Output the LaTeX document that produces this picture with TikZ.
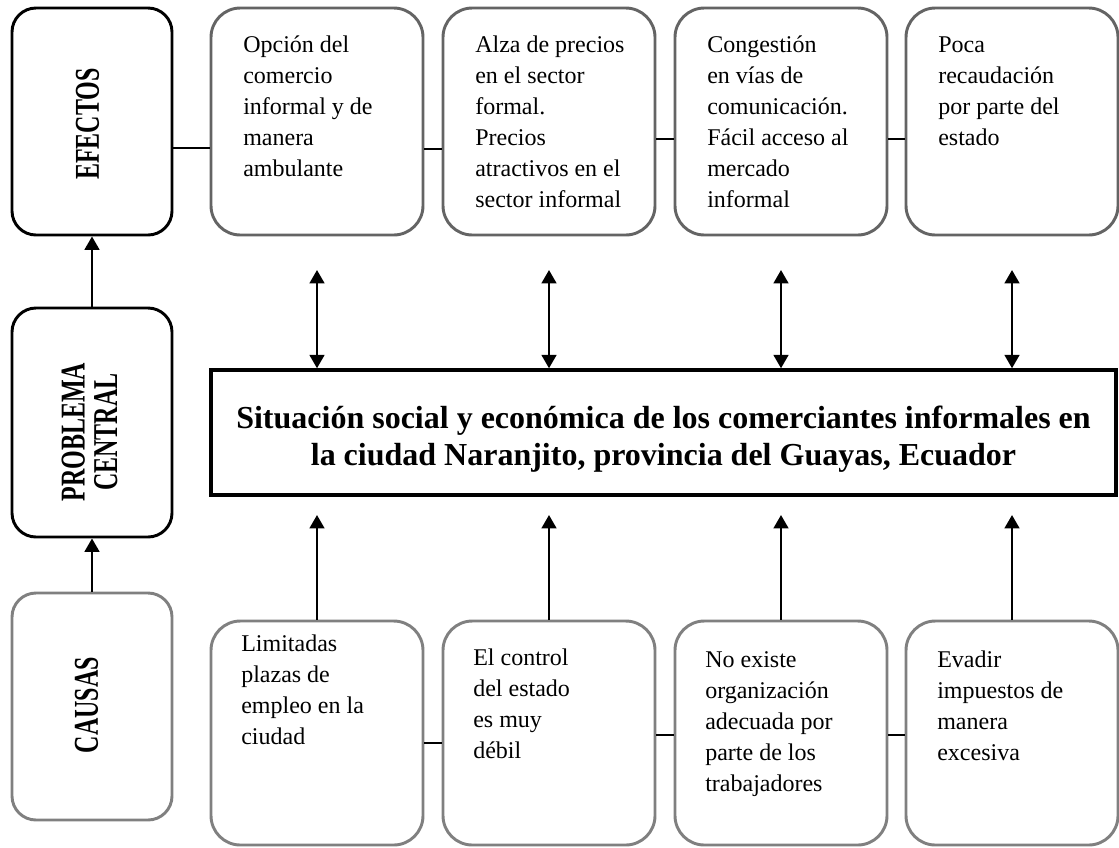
\documentclass[tikz,border=0pt]{standalone}
\usepackage{fontspec}
\setmainfont{Liberation Serif}
\usetikzlibrary{arrows.meta}
\definecolor{effgray}{RGB}{100,100,100}
\definecolor{causegray}{RGB}{128,128,128}
\newcommand{\vlab}[1]{\scalebox{1}[1.45]{\begin{tabular}{@{}c@{}}#1\end{tabular}}}
\begin{document}
\begin{tikzpicture}[x=0.75pt,y=-0.75pt,
  lbox/.style={draw=black, line width=2.2pt, rounded corners=18pt, minimum width=120pt, minimum height=170.25pt, inner sep=0pt},
  ebox/.style={draw=effgray, line width=2.2pt, rounded corners=22pt, minimum width=159pt, minimum height=170.25pt, inner sep=0pt},
  cbox/.style={draw=causegray, line width=2.2pt, rounded corners=22pt, minimum width=159pt, minimum height=168pt, inner sep=0pt},
  central/.style={draw=black, line width=2.6pt, minimum width=678.75pt, minimum height=93.75pt, inner sep=0pt},
  btext/.style={anchor=north west, inner sep=0pt, align=left, font=\fontsize{18pt}{23.25pt}\selectfont},
  vlabel/.style={rotate=90, inner sep=0pt, font=\fontsize{18pt}{16pt}\selectfont\bfseries},
  link/.style={line width=1.5pt},
  uparrow/.style={line width=1.8pt, -{Triangle[length=10pt,width=11pt]}},
  twoway/.style={line width=1.8pt, {Triangle[length=10pt,width=11pt]}-{Triangle[length=10pt,width=11pt]}}
]
\useasboundingbox (0,0) rectangle (1119,847);

% left column
\node[lbox] (efectos) at (92,121.5) {};
\node[vlabel] (efectosT) at (92,124) {\vlab{EFECTOS}};
\node[lbox, minimum height=171.75pt] (problema) at (92,422.5) {};
\node[vlabel] (problemaT) at (94,432) {\vlab{PROBLEMA\\CENTRAL}};
\node[lbox, draw=causegray] (causas) at (92,706.5) {};
\node[vlabel] (causasT) at (91,705) {\vlab{CAUSAS}};

\draw[uparrow] (problema.north) -- (efectos.south);
\draw[uparrow] (causas.north) -- (problema.south);

% effects
\node[ebox] (e1) at (317,121.5) {};
\node[ebox] (e2) at (549,121.5) {};
\node[ebox] (e3) at (781,121.5) {};
\node[ebox] (e4) at (1012,121.5) {};
\node[btext] (e1t) at (243,30.3) {\strut Opción del\\comercio\\informal y de\\manera\\ambulante};
\node[btext] (e2t) at (475,30.3) {\strut Alza de precios\\en el sector\\formal.\\Precios\\atractivos en el\\sector informal};
\node[btext] (e3t) at (707,30.3) {\strut Congestión\\en vías de\\comunicación.\\Fácil acceso al\\mercado\\informal};
\node[btext] (e4t) at (938,30.3) {\strut Poca\\recaudación\\por parte del\\estado};

\coordinate (ya) at (0,148);
\coordinate (yb) at (0,149);
\coordinate (yc) at (0,139);
\draw[link] (efectos.east |- ya) -- (e1.west |- ya);
\draw[link] (e1.east |- yb) -- (e2.west |- yb);
\draw[link] (e2.east |- yc) -- (e3.west |- yc);
\draw[link] (e3.east |- yc) -- (e4.west |- yc);

% central problem
\node[central] (prob) at (663.5,432.5) {};
\node[inner sep=0pt, align=center, font=\fontsize{24pt}{28pt}\selectfont\bfseries] (probT) at (663.5,439)
  {Situación social y económica de los comerciantes informales en\\la ciudad Naranjito, provincia del Guayas, Ecuador};

\coordinate (topa) at (0,270);
\draw[twoway] (e1.south |- topa) -- (e1.south |- prob.north);
\draw[twoway] (e2.south |- topa) -- (e2.south |- prob.north);
\draw[twoway] (e3.south |- topa) -- (e3.south |- prob.north);
\draw[twoway] (e4.south |- topa) -- (e4.south |- prob.north);

% causes
\node[cbox] (c1) at (317,733) {};
\node[cbox] (c2) at (549,733) {};
\node[cbox] (c3) at (781,733) {};
\node[cbox] (c4) at (1012,733) {};
\node[btext] (c1t) at (241,629.3) {\strut Limitadas\\plazas de\\empleo en la\\ciudad};
\node[btext] (c2t) at (473,643.3) {\strut El control\\del estado\\es muy\\débil};
\node[btext] (c3t) at (705,645.3) {\strut No existe\\organización\\adecuada por\\parte de los\\trabajadores};
\node[btext] (c4t) at (937,645.3) {\strut Evadir\\impuestos de\\manera\\excesiva};

\coordinate (yd) at (0,743);
\coordinate (ye) at (0,735);
\draw[link] (c1.east |- yd) -- (c2.west |- yd);
\draw[link] (c2.east |- ye) -- (c3.west |- ye);
\draw[link] (c3.east |- ye) -- (c4.west |- ye);

\coordinate (upa) at (0,515);
\draw[uparrow] (c1.north) -- (c1.north |- upa);
\draw[uparrow] (c2.north) -- (c2.north |- upa);
\draw[uparrow] (c3.north) -- (c3.north |- upa);
\draw[uparrow] (c4.north) -- (c4.north |- upa);
\end{tikzpicture}
\end{document}
